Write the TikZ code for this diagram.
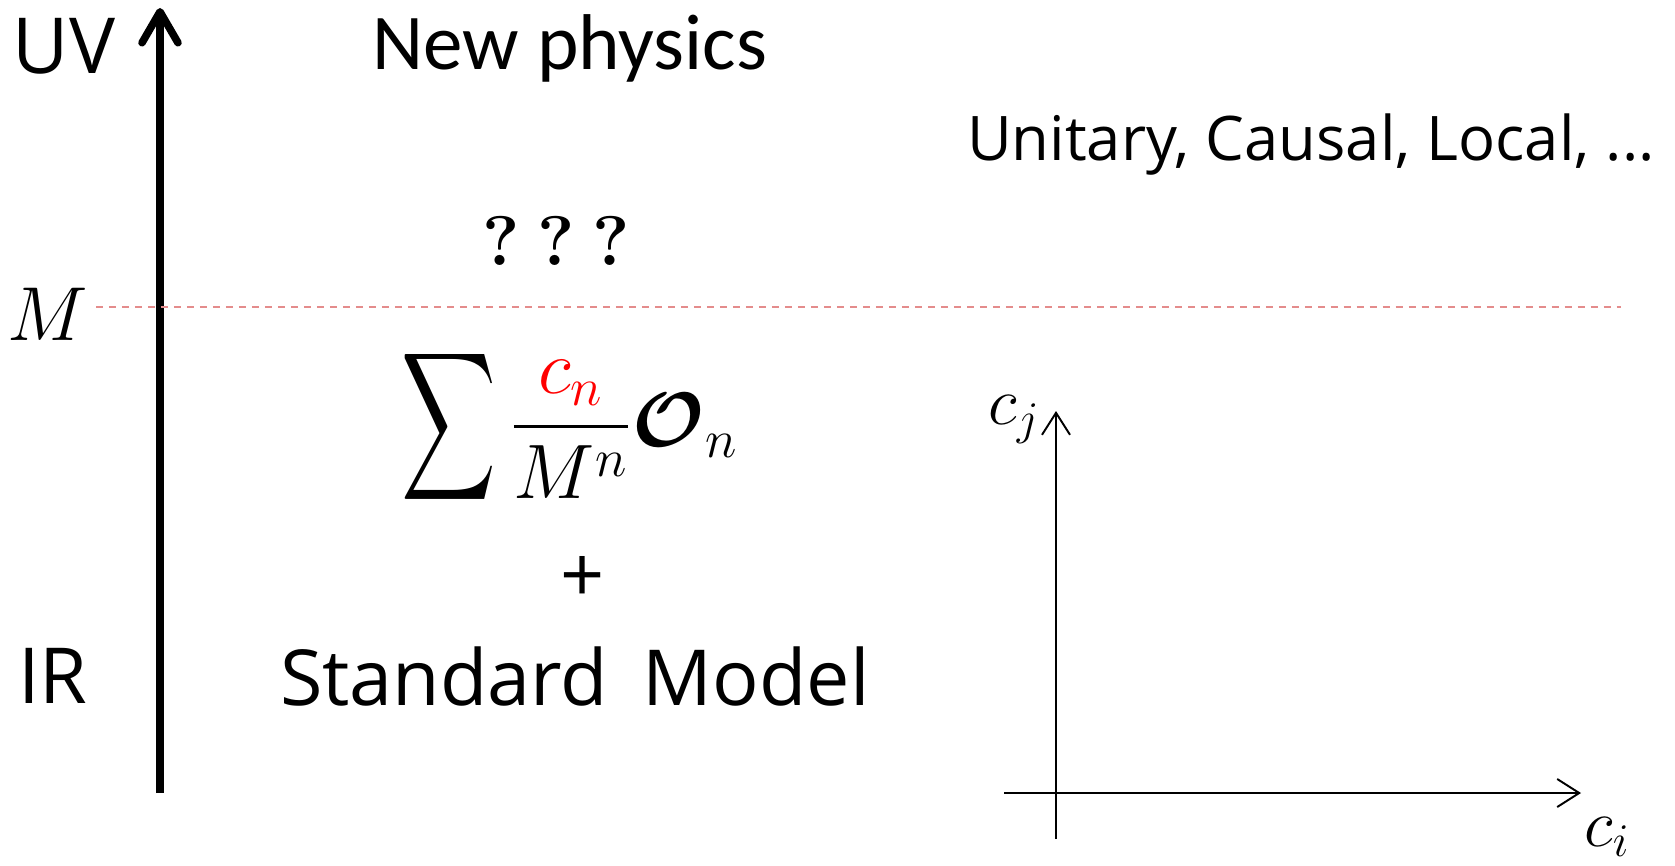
\documentclass[tikz,border=0pt]{standalone}
\usepackage{fontspec}
\usepackage{amsmath}
\usepackage{bm}
\usepackage{graphicx}
\usetikzlibrary{arrows.meta, positioning}
\newfontfamily\bodysans{Open Sans}
\newfontfamily\titlesans{Carlito}
\definecolor{cutred}{RGB}{228,140,140}
\newcommand{\bigsum}{\mathop{\vcenter{\hbox{\scalebox{0.85}[1.34]{$\displaystyle\sum$}}}}}
\newcommand{\mathbig}[2]{\scalebox{#1}{$#2$}}
\tikzstyle{energylabel} = [inner sep=0pt, anchor=base, font=\bodysans\fontsize{44}{53}\selectfont]
\tikzstyle{headline} = [inner sep=0pt, anchor=base, font=\titlesans\fontsize{45}{54}\selectfont]
\tikzstyle{proptext} = [inner sep=0pt, anchor=base, font=\bodysans\fontsize{35}{42}\selectfont]
\tikzstyle{querytext} = [inner sep=0pt, anchor=base, font=\bfseries\fontsize{40}{48}\selectfont]
\tikzstyle{mathlabel} = [inner sep=0pt, anchor=base, font=\fontsize{20.74}{25}\selectfont]
\tikzstyle{axislabel} = [mathlabel, anchor=base west]
\tikzstyle{scalearrow} = [line width=4.3pt, -{Straight Barb[length=0.62cm, width=0.72cm, round]}]
\tikzstyle{axisarrow} = [line width=1.1pt, -{Straight Barb[length=0.44cm, width=0.56cm]}]
\tikzstyle{cutline} = [cutred, line width=1pt, dash pattern=on 0.14cm off 0.12cm]

\begin{document}
\begin{tikzpicture}[x=0.02cm, y=-0.02cm]
\useasboundingbox (0,0) rectangle (1675,865);

\node (UV) [energylabel] at (64,73) {UV};
\node (IR) [energylabel] at (53,703) {IR};

\coordinate (scaletop) at (160,8);
\coordinate (scalebottom) at (160,793);
\draw[scalearrow] (scalebottom) -- (scaletop);

\node (M) [mathlabel] at (48,340) {\mathbig{2.1}{M}};
\coordinate (cutleft) at (96,307);
\coordinate (cutright) at (1621,307);
\draw[cutline] (cutleft) -- (cutright);

\node (newphys) [headline] at (570,70) {New physics};
\node (unknown) [querytext] at (556,265) {?\hspace{0.25em}?\hspace{0.25em}?};
\node (props) [proptext] at (1311,160) {Unitary, Causal, Local, ...};

\node (EFT) [mathlabel] at (570,446) {\mathbig{2.12}{\displaystyle\bigsum\frac{\textcolor{red}{c_n}}{M^n}\bm{\mathcal{O}}_n}};
\node (plus) [energylabel, anchor=center] at (583,579) {+};
\node (SM) [energylabel] at (575,705) {Standard\hspace{0.45em}Model};

\coordinate (origin) at (1056,793);
\coordinate (cistart) at (1004,793);
\coordinate (ciend) at (1581,793);
\coordinate (cjstart) at (1056,839);
\coordinate (cjend) at (1056,411);
\draw[axisarrow] (cistart) -- (ciend);
\draw[axisarrow] (cjstart) -- (cjend);

\node (ci) [axislabel] at (1584,846) {\mathbig{1.85}{c_i}};
\node (cj) [axislabel] at (988,424) {\mathbig{1.85}{c_j}};

\end{tikzpicture}
\end{document}
